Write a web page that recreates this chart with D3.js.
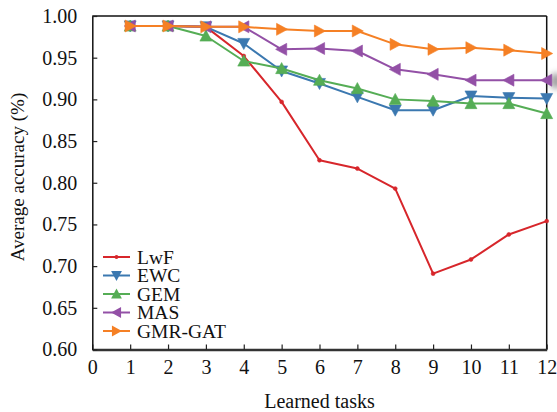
<!DOCTYPE html>
<html>
<head>
<meta charset="utf-8">
<script src="https://cdn.jsdelivr.net/npm/d3@7/dist/d3.min.js"></script>
<style>
  html, body { margin: 0; padding: 0; background: #fff; }
  svg text { font-family: "Liberation Serif", "DejaVu Serif", serif !important; fill: #111; }
</style>
</head>
<body>
<svg id="chart" width="557" height="412"></svg>
<script>
// Learned tasks along the x axis
const tasks = [1, 2, 3, 4, 5, 6, 7, 8, 9, 10, 11, 12];

// Average accuracy per method
const lwf    = [0.988, 0.988, 0.987, 0.952, 0.897, 0.827, 0.817, 0.793, 0.691, 0.708, 0.738, 0.754];
const ewc    = [0.988, 0.988, 0.987, 0.967, 0.934, 0.919, 0.903, 0.887, 0.887, 0.904, 0.902, 0.901];
const gem    = [0.988, 0.988, 0.976, 0.946, 0.937, 0.923, 0.913, 0.900, 0.898, 0.895, 0.895, 0.883];
const mas    = [0.988, 0.988, 0.987, 0.987, 0.960, 0.961, 0.958, 0.936, 0.930, 0.923, 0.923, 0.923];
const gmrgat = [0.988, 0.988, 0.987, 0.987, 0.984, 0.982, 0.982, 0.966, 0.960, 0.962, 0.959, 0.955];

const seriesNames = ["LwF", "EWC", "GEM", "MAS", "GMR-GAT"];
const xTicks = [0, 1, 2, 3, 4, 5, 6, 7, 8, 9, 10, 11, 12];
const yTicks = [0.60, 0.65, 0.70, 0.75, 0.80, 0.85, 0.90, 0.95, 1.00];

const series = [
  { name: seriesNames[0], values: lwf,    color: "#d7262b", marker: "dot" },
  { name: seriesNames[1], values: ewc,    color: "#3b78b0", marker: "down" },
  { name: seriesNames[2], values: gem,    color: "#55ad55", marker: "up" },
  { name: seriesNames[3], values: mas,    color: "#9350a6", marker: "left" },
  { name: seriesNames[4], values: gmrgat, color: "#f58025", marker: "right" }
];

const svg = d3.select("#chart");
const m = { left: 92.3, right: 546.7, top: 16, bottom: 349.5 };

const x = d3.scaleLinear().domain([0, 12]).range([m.left, m.right]);
const y = d3.scaleLinear().domain([0.60, 1.00]).range([m.bottom, m.top]);

// small smudge just outside the right frame
const defs = svg.append("defs");
defs.append("filter").attr("id", "soft").attr("x", "-100%").attr("y", "-100%").attr("width", "300%").attr("height", "300%")
  .append("feGaussianBlur").attr("stdDeviation", 3);
svg.append("ellipse").attr("cx", 556).attr("cy", 81).attr("rx", 6).attr("ry", 8)
  .attr("fill", "#777").attr("opacity", 0.7).attr("filter", "url(#soft)");

// frame (top and right)
svg.append("line").attr("x1", m.left).attr("x2", m.right).attr("y1", m.top).attr("y2", m.top)
  .attr("stroke", "#111").attr("stroke-width", 1.5);
svg.append("line").attr("x1", m.right).attr("x2", m.right).attr("y1", m.top).attr("y2", m.bottom)
  .attr("stroke", "#111").attr("stroke-width", 1.5);

// axes with inward ticks
const xAxis = d3.axisBottom(x).tickValues(xTicks).tickFormat(d3.format("d")).tickSizeInner(-5).tickSizeOuter(0).tickPadding(12);
const yAxis = d3.axisLeft(y).tickValues(yTicks).tickFormat(d3.format(".2f")).tickSizeInner(-5).tickSizeOuter(0).tickPadding(12);

const gx = svg.append("g").attr("transform", `translate(0,${m.bottom})`).call(xAxis)
  .attr("font-family", null).attr("font-size", null);
gx.select(".domain").attr("stroke", "#333").attr("stroke-width", 2.5);
gx.selectAll(".tick line").attr("stroke", "#222").attr("stroke-width", 1.2);
gx.selectAll(".tick text").attr("font-size", 20).attr("fill", "#111").attr("dy", "0.71em").attr("y", 10);

const gy = svg.append("g").attr("transform", `translate(${m.left},0)`).call(yAxis)
  .attr("font-family", null).attr("font-size", null);
gy.select(".domain").attr("stroke", "#111").attr("stroke-width", 1.5);
gy.selectAll(".tick line").attr("stroke", "#222").attr("stroke-width", 1.2);
gy.selectAll(".tick text").attr("font-size", 20).attr("fill", "#111").attr("x", -15);

// axis titles
svg.append("text").attr("x", (m.left + m.right) / 2).attr("y", 408)
  .attr("text-anchor", "middle").attr("font-size", 20).text("Learned tasks");
svg.append("text").attr("transform", "translate(24,177) rotate(-90)")
  .attr("text-anchor", "middle").attr("font-size", 19).text("Average accuracy (%)");

// marker shapes
function markerPath(type, s) {
  const h = s * 0.6;
  switch (type) {
    case "down":  return `M${-h},${-h * 0.85}L${h},${-h * 0.85}L0,${h}Z`;
    case "up":    return `M${-h},${h * 0.85}L${h},${h * 0.85}L0,${-h}Z`;
    case "left":  return `M${h * 0.85},${-h}L${h * 0.85},${h}L${-h},0Z`;
    case "right": return `M${-h * 0.85},${-h}L${-h * 0.85},${h}L${h},0Z`;
    default:      return d3.symbol(d3.symbolCircle, 12)();
  }
}

const line = d3.line().x((d, i) => x(tasks[i])).y(d => y(d));

const plot = svg.append("g");
series.forEach(s => {
  const g = plot.append("g");
  g.append("path").datum(s.values).attr("d", line)
    .attr("fill", "none").attr("stroke", s.color).attr("stroke-width", 2).attr("stroke-linejoin", "round");
  g.selectAll("path.mk").data(s.values).join("path").attr("class", "mk")
    .attr("transform", (d, i) => `translate(${x(tasks[i])},${y(d)})`)
    .attr("d", markerPath(s.marker, 10))
    .attr("fill", s.color).attr("stroke", s.color).attr("stroke-width", 0.6);
});

// legend
const legend = svg.append("g");
series.forEach((s, i) => {
  const ly = 257 + i * 18.5;
  legend.append("line").attr("x1", 103).attr("x2", 130).attr("y1", ly).attr("y2", ly)
    .attr("stroke", s.color).attr("stroke-width", 2);
  legend.append("path").attr("transform", `translate(116.5,${ly})`)
    .attr("d", markerPath(s.marker, 9)).attr("fill", s.color);
  legend.append("text").attr("x", 137).attr("y", ly).attr("dy", "0.35em")
    .attr("font-size", 19.5).text(s.name);
});
</script>
</body>
</html>
